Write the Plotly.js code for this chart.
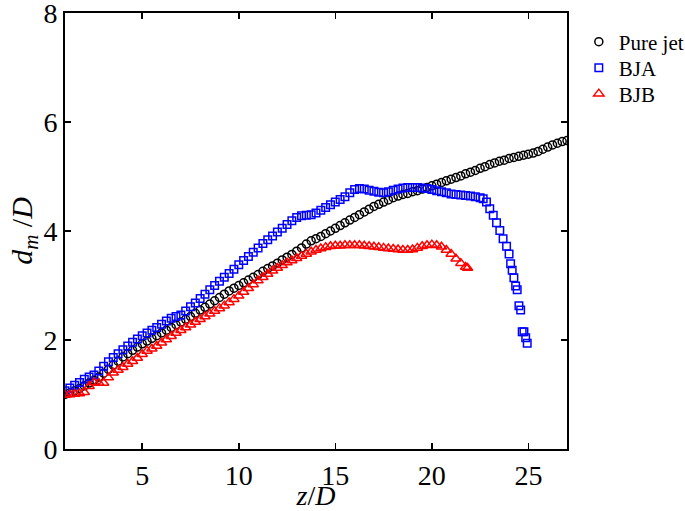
<!DOCTYPE html>
<html>
<head>
<meta charset="utf-8">
<script src="https://cdn.plot.ly/plotly-3.0.1.min.js"></script>
<style>html,body{margin:0;padding:0;background:#fff;}#chart{width:685px;height:511px;}</style>
</head>
<body>
<div id="chart"></div>
<script>
// Pure jet
var pureZ = [1.0,1.25,1.5,1.75,2.0,2.25,2.5,2.75,3.0,3.25,3.5,3.75,4.0,4.25,4.5,4.75,5.0,5.25,5.5,5.75,6.0,6.25,6.5,6.75,7.0,7.25,7.5,7.75,8.0,8.25,8.5,8.75,9.0,9.25,9.5,9.75,10.0,10.25,10.5,10.75,11.0,11.25,11.5,11.75,12.0,12.25,12.5,12.75,13.0,13.25,13.5,13.75,14.0,14.25,14.5,14.75,15.0,15.25,15.5,15.75,16.0,16.25,16.5,16.75,17.0,17.25,17.5,17.75,18.0,18.25,18.5,18.75,19.0,19.25,19.5,19.75,20.0,20.25,20.5,20.75,21.0,21.25,21.5,21.75,22.0,22.25,22.5,22.75,23.0,23.25,23.5,23.75,24.0,24.25,24.5,24.75,25.0,25.25,25.5,25.75,26.0,26.25,26.5,26.75,27.0];
var pureD = [1.00,1.03,1.07,1.11,1.16,1.21,1.26,1.32,1.39,1.46,1.54,1.61,1.69,1.75,1.81,1.87,1.93,1.98,2.03,2.08,2.13,2.18,2.23,2.28,2.33,2.38,2.43,2.49,2.55,2.60,2.66,2.72,2.78,2.84,2.90,2.95,3.00,3.05,3.10,3.15,3.20,3.26,3.31,3.36,3.41,3.47,3.52,3.57,3.63,3.69,3.76,3.82,3.86,3.90,3.95,4.00,4.05,4.10,4.15,4.20,4.25,4.30,4.35,4.40,4.45,4.49,4.53,4.57,4.61,4.64,4.67,4.69,4.72,4.74,4.77,4.80,4.83,4.86,4.89,4.92,4.95,4.98,5.01,5.05,5.08,5.11,5.15,5.18,5.22,5.25,5.28,5.30,5.33,5.35,5.37,5.39,5.41,5.43,5.46,5.50,5.54,5.58,5.61,5.64,5.66];

// BJA
var bjaZ = [1.0,1.25,1.5,1.75,2.0,2.25,2.5,2.75,3.0,3.25,3.5,3.75,4.0,4.25,4.5,4.75,5.0,5.25,5.5,5.75,6.0,6.25,6.5,6.75,7.0,7.25,7.5,7.75,8.0,8.25,8.5,8.75,9.0,9.25,9.5,9.75,10.0,10.25,10.5,10.75,11.0,11.25,11.5,11.75,12.0,12.25,12.5,12.75,13.0,13.25,13.5,13.75,14.0,14.25,14.5,14.75,15.0,15.25,15.5,15.75,16.0,16.25,16.5,16.75,17.0,17.25,17.5,17.75,18.0,18.25,18.5,18.75,19.0,19.25,19.5,19.75,20.0,20.25,20.5,20.75,21.0,21.25,21.5,21.75,22.0,22.25,22.5,22.66,22.83,23.0,23.18,23.35,23.52,23.69,23.87,24.0,24.08,24.16,24.25,24.34,24.42,24.51,24.6,24.68,24.77,24.86,24.94];
var bjaD = [1.07,1.12,1.17,1.22,1.28,1.32,1.36,1.43,1.52,1.60,1.68,1.75,1.82,1.89,1.96,2.02,2.08,2.13,2.18,2.23,2.29,2.35,2.40,2.43,2.46,2.53,2.61,2.68,2.76,2.84,2.92,3.00,3.08,3.15,3.22,3.30,3.38,3.46,3.53,3.61,3.69,3.77,3.84,3.91,3.98,4.05,4.12,4.19,4.25,4.28,4.29,4.30,4.33,4.38,4.43,4.48,4.53,4.58,4.63,4.70,4.76,4.78,4.77,4.75,4.73,4.71,4.70,4.72,4.75,4.77,4.79,4.80,4.80,4.80,4.79,4.78,4.76,4.74,4.72,4.70,4.68,4.67,4.66,4.65,4.64,4.63,4.61,4.59,4.53,4.41,4.29,4.15,4.01,3.86,3.72,3.58,3.40,3.28,3.14,2.99,2.92,2.63,2.55,2.15,2.15,2.04,1.94];

// BJB
var bjbZ = [1.0,1.25,1.5,1.75,2.0,2.25,2.5,2.75,3.0,3.25,3.5,3.75,4.0,4.25,4.5,4.75,5.0,5.25,5.5,5.75,6.0,6.25,6.5,6.75,7.0,7.25,7.5,7.75,8.0,8.25,8.5,8.75,9.0,9.25,9.5,9.75,10.0,10.25,10.5,10.75,11.0,11.25,11.5,11.75,12.0,12.25,12.5,12.75,13.0,13.25,13.5,13.75,14.0,14.25,14.5,14.75,15.0,15.25,15.5,15.75,16.0,16.25,16.5,16.75,17.0,17.25,17.5,17.75,18.0,18.25,18.5,18.75,19.0,19.25,19.5,19.75,20.0,20.25,20.5,20.75,21.0,21.25,21.5,21.75,21.85];
var bjbD = [0.99,1.00,1.01,1.02,1.04,1.15,1.22,1.21,1.21,1.31,1.40,1.45,1.50,1.56,1.61,1.67,1.74,1.80,1.84,1.89,1.95,2.01,2.07,2.13,2.18,2.23,2.28,2.33,2.38,2.43,2.48,2.53,2.58,2.63,2.69,2.75,2.81,2.88,2.95,3.02,3.09,3.15,3.21,3.27,3.32,3.37,3.42,3.46,3.50,3.54,3.58,3.62,3.65,3.68,3.70,3.72,3.73,3.73,3.74,3.74,3.74,3.74,3.73,3.72,3.71,3.70,3.69,3.68,3.67,3.66,3.65,3.65,3.66,3.69,3.72,3.74,3.75,3.74,3.71,3.65,3.58,3.49,3.41,3.34,3.32];

var seriesNames = ['Pure jet', 'BJA', 'BJB'];
var xTicks = [5, 10, 15, 20, 25];
var yTicks = [0, 2, 4, 6, 8];

var serif = 'Liberation Serif, Times New Roman, serif';

var traces = [
  {x: pureZ, y: pureD, name: seriesNames[0], type: 'scatter', mode: 'markers', legend: 'legend',
   marker: {symbol: 'circle-open', size: 8, color: '#000000', line: {width: 1.5, color: '#000000'}}},
  {x: bjaZ, y: bjaD, name: seriesNames[1], type: 'scatter', mode: 'markers', legend: 'legend2',
   marker: {symbol: 'square-open', size: 7.5, color: '#0000ff', line: {width: 1.5, color: '#0000ff'}}},
  {x: bjbZ, y: bjbD, name: seriesNames[2], type: 'scatter', mode: 'markers', legend: 'legend3',
   marker: {symbol: 'triangle-up-open', size: 9, color: '#ff0000', line: {width: 1.5, color: '#ff0000'}}}
];

var axisCommon = {
  showgrid: false, zeroline: false, showline: true, linecolor: '#000', linewidth: 2,
  mirror: 'ticks', ticks: 'inside', ticklen: 6, tickwidth: 1.5, tickcolor: '#000',
  ticklabeloverflow: 'allow', automargin: false,
  tickfont: {family: serif, size: 28, color: '#000'}
};

function legendAt(yc) {
  return {xref: 'container', yref: 'container', x: 0.845, xanchor: 'left', y: yc, yanchor: 'middle',
          itemwidth: 30, borderwidth: 0,
          font: {family: serif, size: 21, color: '#000'}, bgcolor: 'rgba(0,0,0,0)'};
}

var layout = {
  width: 685, height: 511,
  margin: {l: 65, r: 118, t: 13, b: 62},
  paper_bgcolor: '#fff', plot_bgcolor: '#fff',
  showlegend: true,
  legend: legendAt(1 - 42 / 511),
  legend2: legendAt(1 - 68 / 511),
  legend3: legendAt(1 - 94 / 511),
  xaxis: Object.assign({}, axisCommon, {
    range: [1, 27], tickvals: xTicks, ticktext: xTicks.map(String),
    title: {text: '<i>z</i>/<i>D</i>', font: {family: serif, size: 28, color: '#000'}, standoff: 2}
  }),
  yaxis: Object.assign({}, axisCommon, {
    range: [0, 8], tickvals: yTicks, ticktext: yTicks.map(String),
    title: {text: '<i>d</i><sub><i>m</i></sub> /<i>D</i>', font: {family: serif, size: 30, color: '#000'}, standoff: 2}
  })
};

Plotly.newPlot('chart', traces, layout, {displayModeBar: false, staticPlot: true});
</script>
</body>
</html>
